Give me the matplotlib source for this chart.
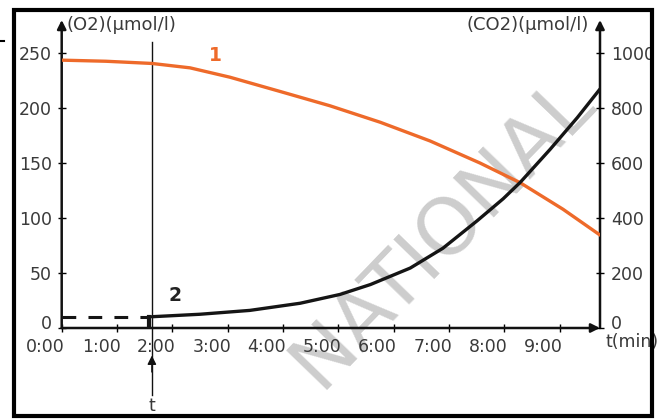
import matplotlib
matplotlib.use("Agg")
import matplotlib.pyplot as plt
from matplotlib.patches import Rectangle
from matplotlib.lines import Line2D
from matplotlib.transforms import ScaledTranslation

# curve 1: O2 (left axis), curve 2: CO2 (right axis), time in minutes
t_o2 = [0, 0.8, 1.63, 2.32, 3.04, 3.95, 4.85, 5.76, 6.66, 7.56, 8.29, 9.06, 9.73]
o2 = [243.5, 242.5, 240.5, 236.5, 228, 215, 202, 187, 170, 150, 132, 108, 84.5]

t_co2 = [1.63, 2.5, 3.4, 4.31, 5.03, 5.58, 6.3, 6.89, 7.51, 7.98, 8.29, 8.83, 9.32, 9.73]
co2 = [41, 50, 64, 90, 122, 158, 218, 290, 390, 470, 530, 650, 765, 869]

t_mark = 1.63          # moment "t"
co2_start = 41         # dashed baseline level
x_ticks = list(range(10))
x_labels = ["%d:00" % i for i in x_ticks]
o2_ticks = [0, 50, 100, 150, 200, 250]
co2_ticks = [0, 200, 400, 600, 800, 1000]

W, H = 659, 419
fig = plt.figure(figsize=(W / 100, H / 100), dpi=100)
plt.rcParams['font.family'] = ['DejaVu Sans']

def px(x, y):
    return x / W, 1 - y / H

l, b = px(61.7, 328)
r, t = px(600, 20)
ax = fig.add_axes([l, b, r - l, t - b])
ax2 = ax.twinx()
ax.set_zorder(2)
ax2.set_zorder(3)
ax.set_xlim(0, 9.73)
ax.set_ylim(0, 280)
ax2.set_ylim(0, 1120)

for a in (ax, ax2):
    for s in a.spines.values():
        s.set_visible(False)
    a.patch.set_visible(False)

txt_col = '#3a3a3a'
ax.set_xticks(x_ticks)
ax.set_xticklabels(x_labels)
ax.set_yticks(o2_ticks)
ax2.set_yticks(co2_ticks)
ax.tick_params(axis='both', direction='inout', length=6, width=1, labelsize=12.5,
               labelcolor=txt_col)
ax.tick_params(axis='x', pad=4)
ax.tick_params(axis='y', pad=4)
ax2.tick_params(axis='y', direction='inout', length=6, width=1, labelsize=12.5,
                labelcolor=txt_col, pad=5)

# x labels sit left of their ticks in the original
for lab in ax.get_xticklabels():
    lab.set_transform(lab.get_transform() + ScaledTranslation(-0.16, 0, fig.dpi_scale_trans))
# the zero labels are lifted a bit
for lab in (ax.get_yticklabels()[0], ax2.get_yticklabels()[0]):
    lab.set_transform(lab.get_transform() + ScaledTranslation(0, 0.06, fig.dpi_scale_trans))

# axis lines with arrows
arr = dict(arrowstyle='-|>', mutation_scale=13, lw=1.8, color='#111111',
           shrinkA=0, shrinkB=0)
ax.annotate('', xy=(0, 1), xytext=(0, 0), xycoords='axes fraction', arrowprops=arr)
ax.annotate('', xy=(1, 0), xytext=(0, 0), xycoords='axes fraction', arrowprops=arr)
ax.annotate('', xy=(1, 1), xytext=(1, 0), xycoords='axes fraction', arrowprops=arr)

# curves
ax.plot(t_o2, o2, color='#ee6a2a', lw=2.4, solid_capstyle='round', zorder=4)
ax2.plot(t_co2, co2, color='#151515', lw=2.4, solid_capstyle='round', zorder=4)
ax2.plot([0, t_mark - 0.05], [co2_start, co2_start], color='#151515', lw=2.2,
         dashes=(4.5, 4), dash_capstyle='butt')
ax2.plot([t_mark - 0.05, t_mark - 0.05], [0, co2_start], color='#151515', lw=3)

# vertical marker line for t
ax.plot([t_mark, t_mark], [-61, 260], color='#111111', lw=1, clip_on=False, zorder=3)
ax.annotate('', xy=(t_mark, -25), xytext=(t_mark, -40),
            arrowprops=dict(arrowstyle='-|>', mutation_scale=13, lw=1, color='#111111',
                            shrinkA=0, shrinkB=0), annotation_clip=False)
ax.text(t_mark, -71, 't', ha='center', va='center', fontsize=12.5, color=txt_col)

ax.text(2.77, 248, '1', color='#ee6a2a', fontsize=13.5, fontweight='bold',
        ha='center', va='center')
ax2.text(2.05, 117, '2', color='#222222', fontsize=13.5, fontweight='bold',
         ha='center', va='center')

# axis titles
fig.text(*px(67, 25), '(O2)(µmol/l)', fontsize=13, color=txt_col, va='center', ha='left')
fig.text(*px(589, 25), '(CO2)(µmol/l)', fontsize=13, color=txt_col, va='center', ha='right')
fig.text(*px(632, 342), 't(min)', fontsize=12.5, color=txt_col, va='center', ha='center')

# watermark, under the curves
fig.text(*px(442, 232), 'NATIONAL', fontsize=57, color='#cdcdcd',
         rotation=46, ha='center', va='center', zorder=1)

# outer frame and stray mark
fx0, fy0 = px(14, 416)
fx1, fy1 = px(651.5, 10)
fig.patches.append(Rectangle((fx0, fy0), fx1 - fx0, fy1 - fy0, transform=fig.transFigure,
                             fill=False, lw=3, edgecolor='black', zorder=10))
sx0, sy = px(0, 41.5)
sx1, _ = px(4, 41.5)
fig.lines.append(Line2D([sx0, sx1], [sy, sy], transform=fig.transFigure, color='black', lw=1.5))

fig.savefig('out.png', dpi=100)
